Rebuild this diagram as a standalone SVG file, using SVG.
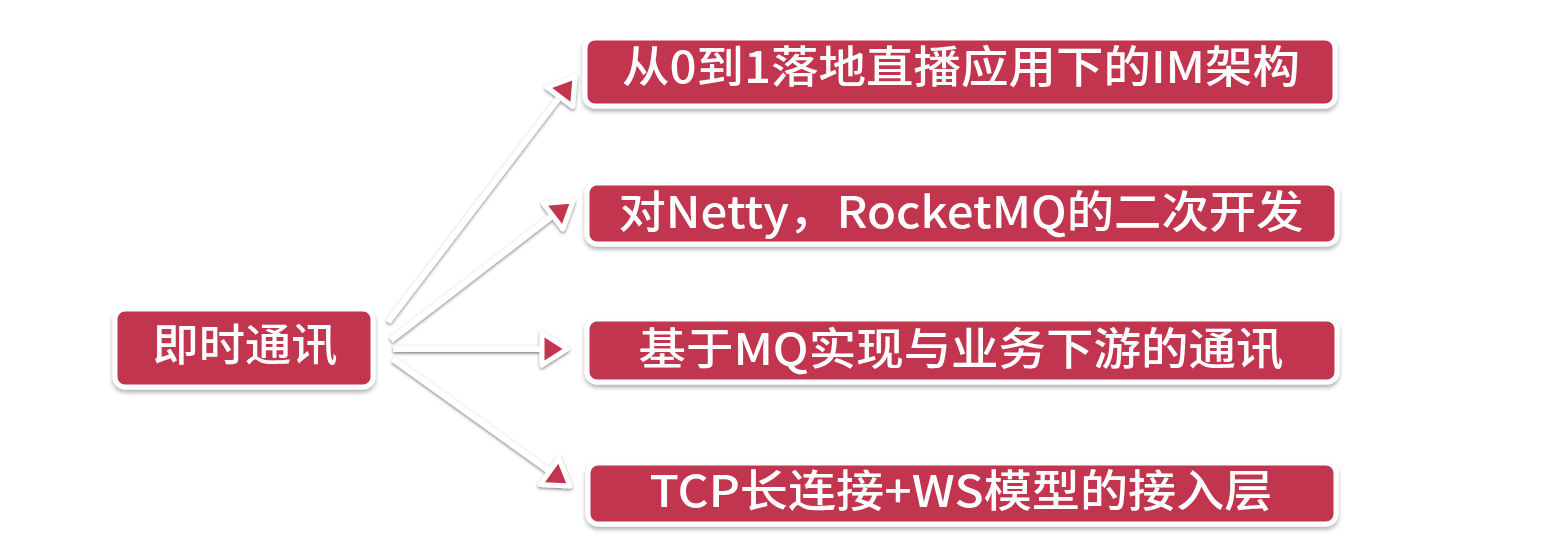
<svg xmlns="http://www.w3.org/2000/svg" width="1553" height="557" viewBox="0 0 1553 557">
<defs>
<filter id="sh" x="-10%" y="-30%" width="120%" height="170%">
<feDropShadow dx="0" dy="3" stdDeviation="2" flood-color="#000" flood-opacity="0.3"/>
</filter>
<filter id="lsh" x="-20%" y="-20%" width="140%" height="140%">
<feDropShadow dx="0" dy="1.5" stdDeviation="1.5" flood-color="#000" flood-opacity="0.5"/>
</filter>
</defs>
<style>
.box{fill:#c1344f;stroke:#ffffff;stroke-width:5;}
.lbl{fill:#ffffff;font-family:"Noto Sans CJK SC","Noto Sans",sans-serif;font-size:44px;font-weight:500;text-anchor:middle;}
.conn{stroke:#ffffff;stroke-width:6;fill:none;stroke-linecap:butt;}
.arrow{fill:#c1344f;stroke:#ffffff;stroke-width:5;stroke-linejoin:round;}
</style>
<rect width="1553" height="557" fill="#ffffff"/>
<g id="connectors" filter="url(#lsh)">
<line class="conn" x1="388" y1="322" x2="558" y2="99"/>
<line class="conn" x1="391" y1="340" x2="552" y2="216"/>
<line class="conn" x1="393" y1="349" x2="543" y2="349"/>
<line class="conn" x1="393" y1="359" x2="548" y2="470"/>
<polygon class="arrow" points="-25,-16 0,0 -25,16" transform="translate(575,77) rotate(-52.75)"/>
<polygon class="arrow" points="-25,-16 0,0 -25,16" transform="translate(573,201) rotate(-37.43)"/>
<polygon class="arrow" points="-25,-16 0,0 -25,16" transform="translate(567,349)"/>
<polygon class="arrow" points="-25,-16 0,0 -25,16" transform="translate(570,486) rotate(35.48)"/>
</g>
<g id="n0" filter="url(#sh)">
<rect class="box" x="115" y="309" width="258" height="78" rx="10"/>
<text class="lbl" x="245" y="361" textLength="185" lengthAdjust="spacingAndGlyphs">即时通讯</text>
</g>
<g id="n1" filter="url(#sh)">
<rect class="box" x="585" y="38" width="750" height="68" rx="10"/>
<text class="lbl" x="961" y="83" textLength="678" lengthAdjust="spacingAndGlyphs">从0到1落地直播应用下的IM架构</text>
</g>
<g id="n2" filter="url(#sh)">
<rect class="box" x="587" y="183" width="750" height="61" rx="10"/>
<text class="lbl" x="961" y="228" textLength="685" lengthAdjust="spacingAndGlyphs">对Netty，RocketMQ的二次开发</text>
</g>
<g id="n3" filter="url(#sh)">
<rect class="box" x="587" y="319" width="750" height="63" rx="10"/>
<text class="lbl" x="961" y="365" textLength="645" lengthAdjust="spacingAndGlyphs">基于MQ实现与业务下游的通讯</text>
</g>
<g id="n4" filter="url(#sh)">
<rect class="box" x="588" y="463" width="748" height="61" rx="10"/>
<text class="lbl" x="961" y="507" textLength="623" lengthAdjust="spacingAndGlyphs">TCP长连接+WS模型的接入层</text>
</g>
</svg>
